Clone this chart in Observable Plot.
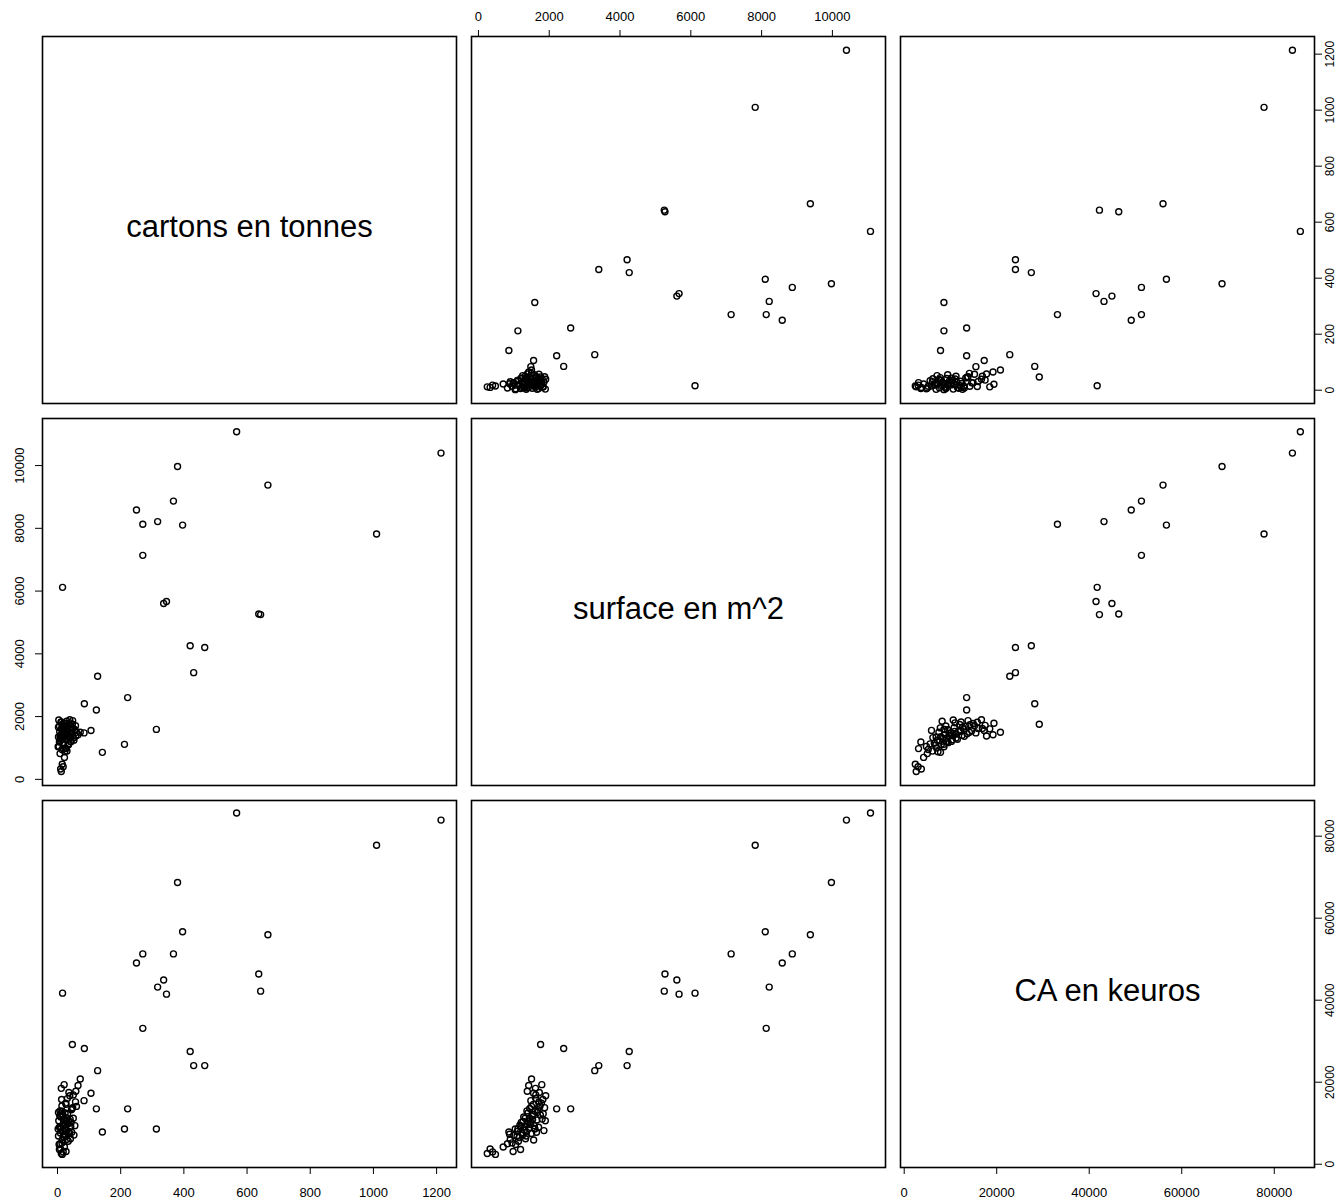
<!DOCTYPE html>
<html><head><meta charset="utf-8">
<script src="https://cdn.jsdelivr.net/npm/d3@7"></script>
<script src="https://cdn.jsdelivr.net/npm/@observablehq/plot@0.6"></script>
<style>
body{margin:0;background:#fff;}
#root{position:relative;width:1339px;height:1203px;background:#fff;font-family:"Liberation Sans",Arial,sans-serif;}
#root svg{position:absolute;}
</style></head><body><div id="root"></div>
<script>
const varNames = ["cartons en tonnes", "surface en m^2", "CA en keuros"];
const cartons = [1214,567,1010,380,666,396,367,270,250,270,317,637,643,336,345,16,420,466,431,127,313,123,222,212,142,85,47,106,72,65,58,50,
  12,18,10,15,22,8,30,14,25,5,35,20,42,9,28,16,50,3,33,24,11,46,19,38,7,27,55,14,31,21,44,6,36,17,26,40,13,29,48,4,
  23,34,10,41,19,52,2,37,15,45,26,8,32,57,12,21,39,6,27,60,84,
  18,9,30,24,3,43,14,36,20,11];
const surface = [10397,11076,7819,9972,9377,8102,8867,7139,8583,8130,8215,5270,5250,5605,5668,6119,4260,4200,3400,3286,1592,2210,2606,1115,860,2408,1756,1558,1500,1420,1380,1620,
  250,400,330,480,700,820,900,950,1000,1050,1100,1150,1200,1230,1260,1300,1320,1350,1380,1400,1420,1450,1480,1500,1520,1550,1580,1600,1620,1650,1680,1700,1720,1750,1780,1800,1820,1850,1870,1890,
  880,1130,1280,1330,1170,1250,1040,1410,1560,1640,1470,1370,1540,1710,1610,1790,1900,1190,980,1500,1480,
  1090,1310,1440,1590,1660,1210,1740,1360,1530,1830];
const ca = [83926,85644,77790,68712,55951,56687,51288,51288,49080,33129,43190,46380,42208,44908,41472,41718,27485,24049,24049,22822,8589,13497,13497,8589,7853,28221,29202,17300,20800,19200,17800,16900,
  2600,3000,3700,2400,4200,5000,6100,5200,7000,4800,8000,6500,9200,7600,10400,8300,11200,6900,9800,12500,8800,13600,10100,7500,11800,14600,9400,12900,16000,10800,13300,9000,17500,12000,14900,11000,15800,8200,13800,10600,
  7300,5600,11500,6200,9500,7100,8600,10500,5900,7800,9700,13000,12200,15200,18500,19400,16700,3600,3100,14100,15500,
  6800,9100,11300,8700,12600,10200,14200,7900,10900,12300];
const cartonsTicks = [0, 200, 400, 600, 800, 1000, 1200];
const surfaceTicks = [0, 2000, 4000, 6000, 8000, 10000];
const caTicks = [0, 20000, 40000, 60000, 80000];

const ticks = [cartonsTicks, surfaceTicks, caTicks];
const domains = [[-47.5, 1263], [-196, 11500], [-800, 88700]];
const colLeft = [42, 471, 900], rowTop = [36, 418, 800];
const panelW = 414, panelH = 367, M = 45;
const rows = cartons.map((c, i) => ({v: [c, surface[i], ca[i]]}));
const root = document.getElementById("root");
const fmt = d => String(d);

for (let r = 0; r < 3; r++) for (let c = 0; c < 3; c++) {
  const marks = [];
  if (r === c) {
    marks.push(Plot.text([varNames[r]], {frameAnchor: "middle", fontSize: 31, dy: 7, fill: "#000"}));
  } else {
    marks.push(Plot.dot(rows, {x: d => d.v[c], y: d => d.v[r], r: 3, stroke: "#000", strokeWidth: 1.4}));
  }
  marks.push(Plot.frame({stroke: "#000", strokeWidth: 1.6}));
  let hasX = false, hasY = false;
  if (r === 0 && c === 1) {
    hasX = true;
    marks.push(Plot.axisX(ticks[c], {anchor: "top", tickSize: 7, tickPadding: 9, fontSize: 13, label: null, tickFormat: fmt, strokeWidth: 1}));
  }
  if (r === 2 && (c === 0 || c === 2)) {
    hasX = true;
    marks.push(Plot.axisX(ticks[c], {anchor: "bottom", tickSize: 7, tickPadding: 13, fontSize: 13, label: null, tickFormat: fmt, strokeWidth: 1}));
  }
  if (r === 1 && c === 0) {
    hasY = true;
    marks.push(Plot.axisY(ticks[r], {anchor: "left", tickSize: 7, tickPadding: 12, tickRotate: -90, textAnchor: "middle", lineAnchor: "bottom", fontSize: 13, label: null, tickFormat: fmt, strokeWidth: 1}));
  }
  if ((r === 0 || r === 2) && c === 2) {
    hasY = true;
    marks.push(Plot.axisY(ticks[r], {anchor: "right", tickSize: 7, tickPadding: 4, tickRotate: -90, textAnchor: "middle", lineAnchor: "top", fontSize: 12, label: null, tickFormat: fmt, strokeWidth: 1}));
  }
  const p = Plot.plot({
    width: panelW + 2 * M, height: panelH + 2 * M, margin: M,
    x: {domain: domains[c], ...(hasX ? {} : {axis: null})},
    y: {domain: domains[r], ...(hasY ? {} : {axis: null})},
    style: {background: "transparent", overflow: "visible", fontFamily: "Liberation Sans, Arial, sans-serif", color: "#000"},
    marks
  });
  p.style.left = (colLeft[c] - M) + "px";
  p.style.top = (rowTop[r] - M) + "px";
  root.append(p);
}
</script></body></html>
